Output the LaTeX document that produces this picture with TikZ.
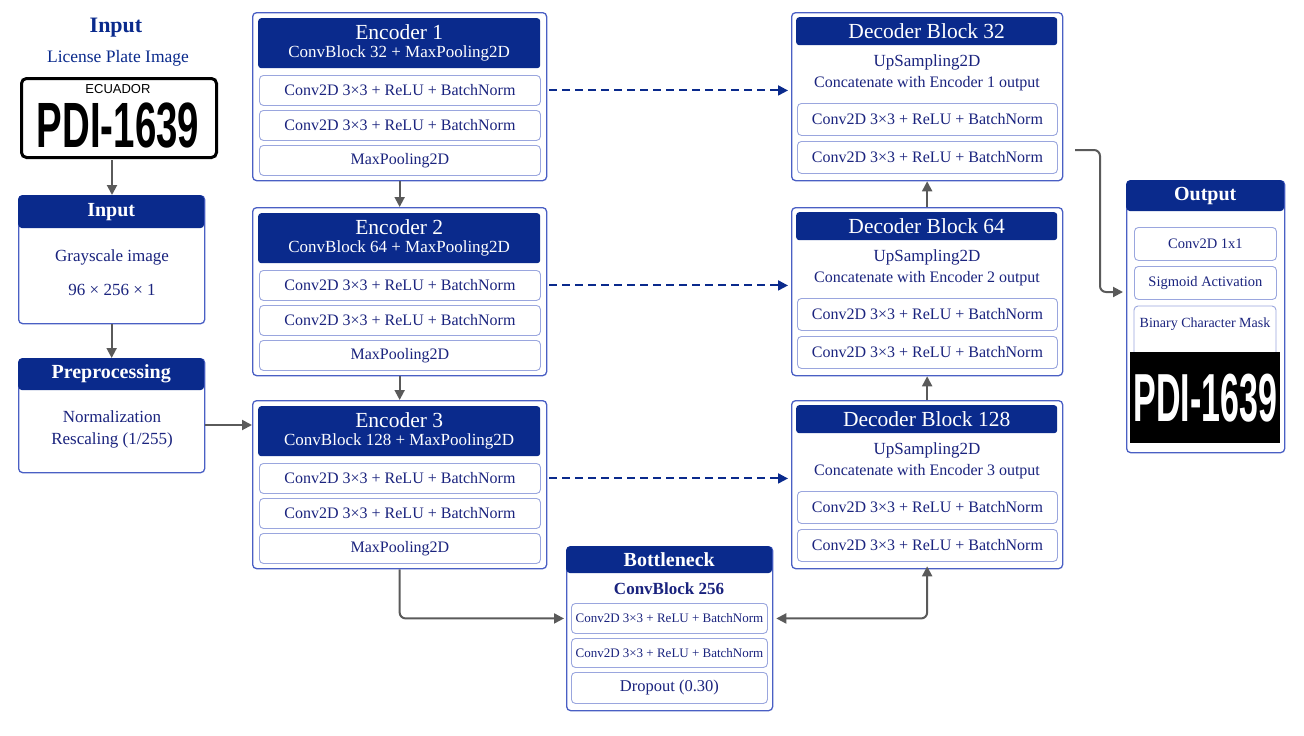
\documentclass[tikz,border=0pt]{standalone}
\usepackage{fontspec}
\setmainfont{Liberation Serif}
\newfontfamily\platefont{Liberation Sans}
\usetikzlibrary{arrows.meta}
\definecolor{navy}{HTML}{0A2A8C}
\definecolor{bord}{HTML}{4A5FC4}
\definecolor{inner}{HTML}{9AA6DE}
\definecolor{txt}{HTML}{1A237E}
\definecolor{arr}{HTML}{5A5A5A}
\newcommand\bx[7]{\node[#6,anchor=north west,inner sep=0pt,minimum width={((#4)-(#2))*1pt},minimum height={((#5)-(#3))*1pt}] (#1) at (#2,#3) {#7};}
\tikzset{
 outer/.style={draw=bord,line width=1.3pt,rounded corners=4pt,fill=white},
 head/.style={fill=navy,rounded corners=4pt,text=white,align=center,font=\fontsize{20}{20}\selectfont\bfseries},
 headE/.style={fill=navy,rounded corners=3pt,text=white,align=center,font=\fontsize{21.5}{19}\selectfont},
 row/.style={draw=inner,line width=0.9pt,rounded corners=4pt,text=txt,font=\fontsize{16}{17}\selectfont},
 lbl/.style={text=txt,font=\fontsize{17}{18}\selectfont},
 garr/.style={draw=arr,line width=2pt,-{Triangle[length=10pt,width=10pt]},rounded corners=6pt},
 darr/.style={draw=navy,line width=2pt,dashed,dash pattern=on 8pt off 5pt,-{Triangle[length=10pt,width=10pt]}}
}
\begin{document}
\begin{tikzpicture}[x=1pt,y=-1pt]
\useasboundingbox (0,0) rectangle (1304,736);
% input plate
\node[text=navy,font=\fontsize{22}{22}\selectfont\bfseries] (intitle) at (116,28) {Input};
\node[text=navy,font=\fontsize{17.5}{18}\selectfont] (insub) at (118,58) {License Plate Image};
\bx{plate}{20}{77}{215}{156}{draw=black,line width=3pt,rounded corners=5pt,fill=white}{}
\node[font=\platefont\fontsize{13}{13}\selectfont] (ecu) at (118,89) {ECUADOR};
\node[font=\platefont\bfseries\fontsize{64}{64}\selectfont] (ptxt) at (118,126) {\scalebox{0.6}[1]{PDI-1639}};
% input box
\bx{inbox}{18}{195}{204}{323}{outer}{}
\bx{inhead}{18}{195}{204}{228}{head}{Input}
\node[lbl] (g1) at (112,257) {Grayscale image};
\node[lbl] (g2) at (112,290) {96 × 256 × 1};
% preprocessing
\bx{prebox}{18}{358}{204}{472}{outer}{}
\bx{prehead}{18}{358}{204}{390}{head}{Preprocessing}
\node[lbl] (p1) at (112,417) {Normalization};
\node[lbl] (p2) at (112,440) {Rescaling (1/255)};
\coordinate (a0) at (112,160);
\draw[garr] (a0) -- (a0|-inbox.north);
\draw[garr] (inbox.south) -- (prebox.north);
% encoders
\foreach \i/\o/\c in {1/0/32,2/195/64,3/388/128}{
 \bx{enc\i}{252}{12+\o}{546}{180+\o}{outer}{}
 \bx{ench\i}{258}{18+\o}{540}{68+\o}{headE}{Encoder \i\\[-1pt]{\fontsize{17}{18}\selectfont ConvBlock \c{} + MaxPooling2D}}
 \bx{er\i a}{259}{75+\o}{540}{105+\o}{row}{Conv2D 3×3 + ReLU + BatchNorm}
 \bx{er\i b}{259}{110+\o}{540}{140+\o}{row}{Conv2D 3×3 + ReLU + BatchNorm}
 \bx{er\i c}{259}{145+\o}{540}{175+\o}{row}{MaxPooling2D}
}
\draw[garr] (prebox.east|-0,425) -- (enc3.west|-0,425);
\draw[garr] (enc1.south) -- (enc2.north);
\draw[garr] (enc2.south) -- (enc3.north);
% decoders
\foreach \i/\o/\c/\e in {1/0/32/1,2/195/64/2,3/388/128/3}{
 \bx{dec\i}{791}{12+\o}{1062}{180+\o}{outer}{}
 \bx{dech\i}{796}{17+\o}{1057}{45+\o}{headE}{Decoder Block \c}
 \node[lbl] (du\i) at (927,62+\o) {UpSampling2D};
 \node[lbl,font=\fontsize{16}{17}\selectfont] (dc\i) at (927,84+\o) {Concatenate with Encoder \e{} output};
 \bx{dr\i a}{797}{103+\o}{1057}{135+\o}{row}{Conv2D 3×3 + ReLU + BatchNorm}
 \bx{dr\i b}{797}{141+\o}{1057}{173+\o}{row}{Conv2D 3×3 + ReLU + BatchNorm}
}
\foreach \i in {1,2,3}{\draw[darr] ([xshift=2pt]enc\i.east|-er\i a) -- ([xshift=-3pt]dec\i.west|-er\i a);}
\draw[garr] (dec3.north) -- (dec2.south);
\draw[garr] (dec2.north) -- (dec1.south);
% bottleneck
\bx{bot}{566}{546}{772}{710}{outer}{}
\bx{both}{566}{546}{772}{573}{head}{Bottleneck}
\node[lbl,font=\fontsize{17}{18}\selectfont\bfseries] (cb) at (669,589) {ConvBlock 256};
\bx{br1}{571}{603}{767}{633}{row,font=\fontsize{13}{14}\selectfont}{Conv2D 3×3 + ReLU + BatchNorm}
\bx{br2}{571}{638}{767}{667}{row,font=\fontsize{13}{14}\selectfont}{Conv2D 3×3 + ReLU + BatchNorm}
\bx{br3}{571}{672}{767}{703}{row,font=\fontsize{16.5}{17}\selectfont}{Dropout (0.30)}
\draw[garr] (enc3.south) |- ([xshift=-2pt]bot.west|-br1);
\draw[garr,{Triangle[length=10pt,width=10pt]}-{Triangle[length=10pt,width=10pt]}] ([xshift=3pt]bot.east|-br1) -| ([yshift=3pt]dec3.south);
% output
\bx{out}{1126}{180}{1284}{452}{outer}{}
\bx{outh}{1126}{180}{1284}{211}{head}{Output}
\bx{or1}{1134}{227}{1276}{260}{row,font=\fontsize{14.5}{15}\selectfont}{Conv2D 1x1}
\bx{or2}{1134}{266}{1276}{299}{row,font=\fontsize{14.5}{15}\selectfont}{Sigmoid Activation}
\draw[inner,line width=0.9pt,rounded corners=4pt] (1134,360) -- (1134,306) -- (1276,306) -- (1276,360);
\node[text=txt,font=\fontsize{14}{15}\selectfont] (or3) at (1205,324) {Binary Character Mask};
\bx{mask}{1130}{352}{1280}{443}{fill=black}{}
\node[text=white,font=\platefont\bfseries\fontsize{68}{68}\selectfont] (mtxt) at (mask) {\scalebox{0.5}[1]{PDI-1639}};
\coordinate (dout) at (1075,150);
\draw[garr] (dout) -| (1100,260) |- ([xshift=-3pt]out.west|-0,292);
\end{tikzpicture}
\end{document}
